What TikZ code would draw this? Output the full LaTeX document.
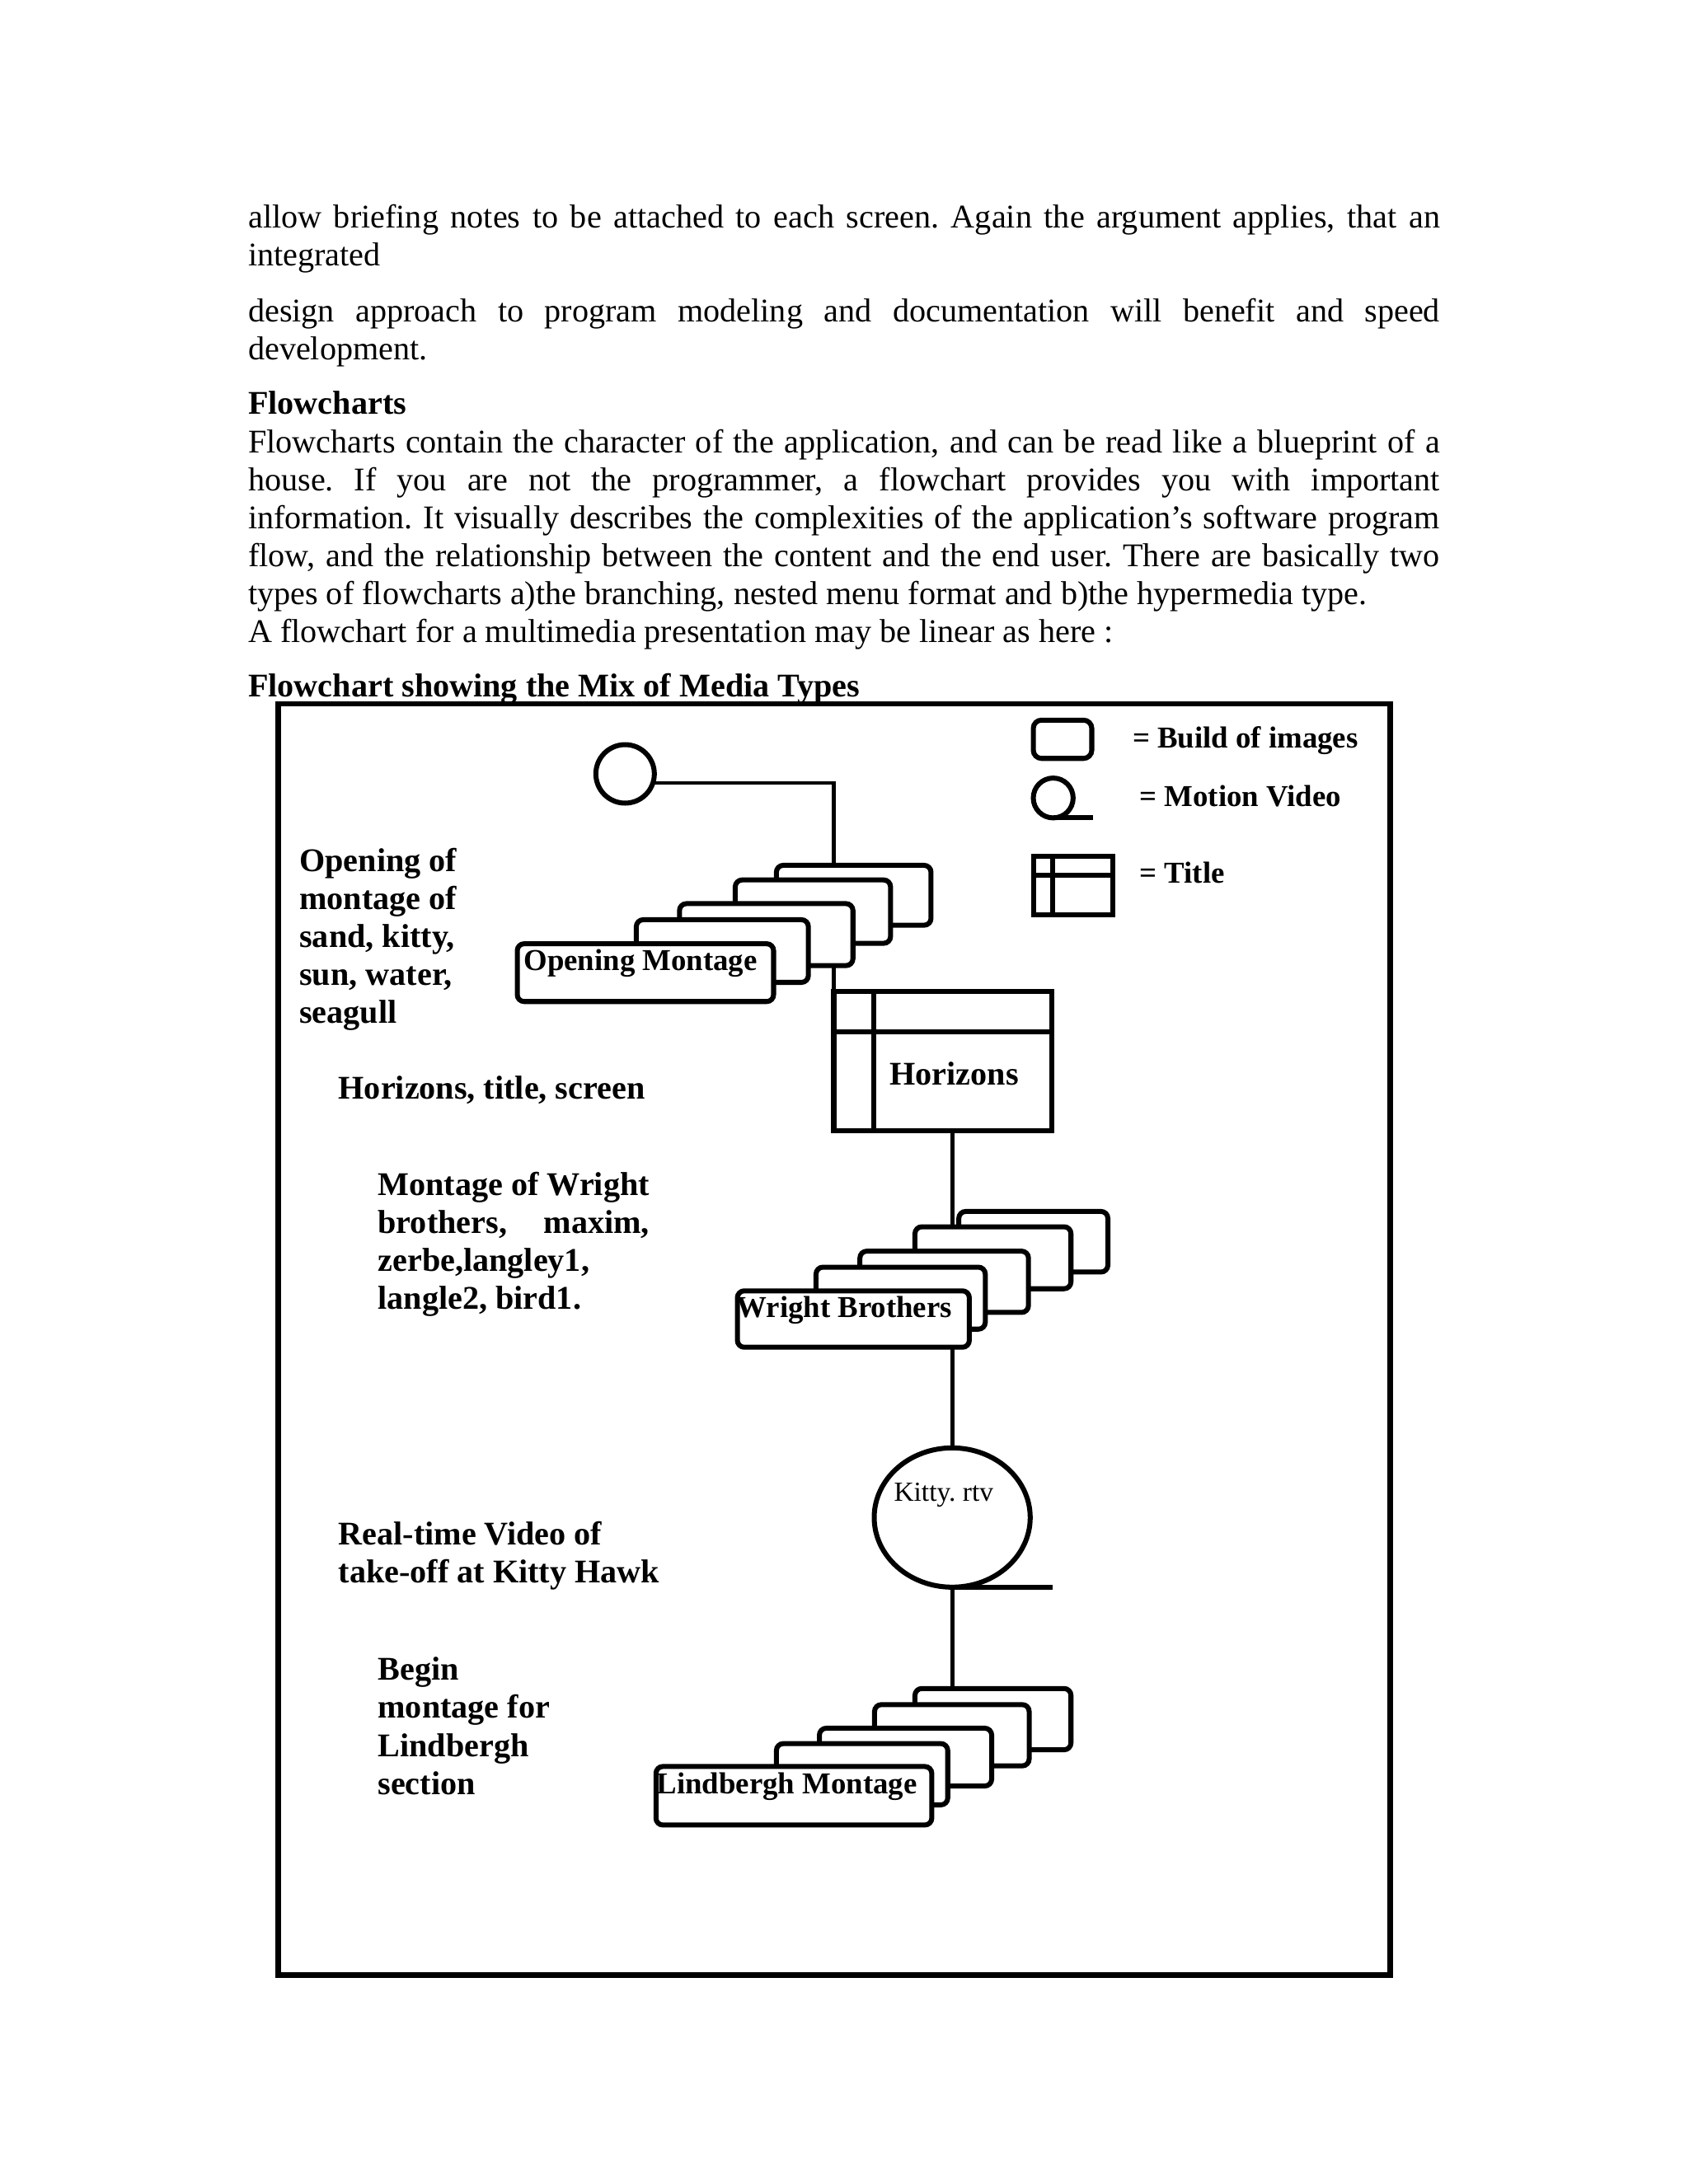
\documentclass[tikz,border=0pt]{standalone}
\usepackage{fontspec}
\setmainfont{Liberation Serif}
\usepackage{calc}
\usetikzlibrary{shapes.geometric}
\newcommand\linesof[1]{\vtop{\halign{##\hfil\cr#1\crcr}}}
\frenchspacing
\begin{document}
\frenchspacing
\begin{tikzpicture}[x=0.505pt,y=-0.505pt,
  bodytext/.style={anchor=base west, inner sep=0pt, outer sep=0pt, font=\fontsize{12}{13.8}\selectfont},
  labeltext/.style={bodytext, font=\fontsize{12}{13.8}\selectfont\bfseries},
  boxtext/.style={bodytext, font=\fontsize{11}{12.65}\selectfont\bfseries},
  smalltext/.style={bodytext, font=\fontsize{10}{12}\selectfont},
  imgbox/.style={rectangle, draw, fill=white, line width=1.8pt, rounded corners=2.5pt, inner sep=0pt, outer sep=0pt},
  titlebox/.style={rectangle, draw, fill=white, line width=1.8pt, inner sep=0pt, outer sep=0pt},
  videonode/.style={ellipse, draw, fill=white, line width=1.8pt, inner sep=0pt, outer sep=0pt},
  shapeline/.style={line width=1.8pt},
  conn/.style={line width=1.4pt},
  sz/.style 2 args={minimum width=#1*0.505pt, minimum height=#2*0.505pt}]
\fill[white] (0,0) rectangle (1212,1568);
\useasboundingbox (0,0) rectangle (1212,1568);

% ---------- body text ----------
\node[bodytext] (t1) at (178.2,163.5) {\makebox[432pt][s]{allow briefing notes to be attached to each screen. Again the argument applies, that an}};
\node[bodytext] (t2) at (178.2,191) {integrated};
\node[bodytext] (t3) at (178.2,231) {\makebox[432pt][s]{design approach to program modeling and documentation will benefit and speed}};
\node[bodytext] (t4) at (178.2,258) {development.};
\node[bodytext] (t5) at (178.2,297.5) {\textbf{Flowcharts}};
\node[bodytext] (t6) at (178.2,325) {\makebox[432pt][s]{Flowcharts contain the character of the application, and can be read like a blueprint of a}};
\node[bodytext] (t7) at (178.2,352.4) {\makebox[432pt][s]{house. If you are not the programmer, a flowchart provides you with important}};
\node[bodytext] (t8) at (178.2,379.6) {\makebox[432pt][s]{information. It visually describes the complexities of the application’s software program}};
\node[bodytext] (t9) at (178.2,406.8) {\makebox[432pt][s]{flow, and the relationship between the content and the end user. There are basically two}};
\node[bodytext] (t10) at (178.2,434) {types of flowcharts a)the branching, nested menu format and b)the hypermedia type.};
\node[bodytext] (t11) at (178.2,461) {A flowchart for a multimedia presentation may be linear as here :};
\node[labeltext] (head) at (178.2,500) {Flowchart showing the Mix of Media Types};

% ---------- frame ----------
\draw[line width=2pt] (199.6,505.3) rectangle (998,1418);

% ---------- legend ----------
\node[imgbox, rounded corners=3pt, sz={42}{27.5}] (legbox) at (762.7,530.75) {};
\node[boxtext] (legboxt) at (813,536.7) {= Build of images};
\node[videonode, circle, sz={28.6}{28.6}] (legvid) at (756,572.9) {};
\draw[shapeline] (legvid.south) -- ++(28.6,0);
\node[boxtext] (legvidt) at (818,578.9) {= Motion Video};
\node[titlebox, sz={57}{42.5}] (legtit) at (770.2,635.75) {};
\draw[shapeline] (legtit.north west) ++(14.1,0) -- ++(0,42.5);
\draw[shapeline] (legtit.north west) ++(0,14.1) -- ++(57,0);
\node[boxtext] (legtitt) at (818,634) {= Title};

% ---------- start video ----------
\node[videonode, circle, sz={42}{42}] (start) at (448.7,555.6) {};

% ---------- opening montage stack ----------
\node[imgbox, sz={111}{43}] (om5) at (612.8,642.75) {};
\node[imgbox, sz={111.5}{45.5}] (om4) at (583.5,654.5) {};
\node[imgbox, sz={124.5}{44.5}] (om3) at (550,671) {};
\node[imgbox, sz={123.5}{45}] (om2) at (518.5,682.8) {};
\node[imgbox, sz={184}{41.5}] (om1) at (463.3,698.3) {};
\node[boxtext] (om1t) at (376,697) {Opening Montage};

% ---------- Horizons title ----------
\node[titlebox, sz={156.5}{99.6}] (hz) at (676.75,761.8) {};
\draw[shapeline] (hz.north west) ++(28.5,0) -- ++(0,99.6);
\draw[shapeline] (hz.north west) ++(0,28.7) -- ++(156.5,0);
\node[labeltext] (hzt) at (638.8,779) {Horizons};

% ---------- Wright stack ----------
\node[imgbox, sz={107}{43.5}] (wb5) at (741.75,891.5) {};
\node[imgbox, sz={112}{44.5}] (wb4) at (712.75,903) {};
\node[imgbox, sz={121}{44}] (wb3) at (677.75,920.25) {};
\node[imgbox, sz={121.5}{44.5}] (wb2) at (646.5,932) {};
\node[imgbox, sz={166.5}{40.5}] (wb1) at (612.55,947) {};
\node[boxtext] (wb1t) at (528.7,945.7) {Wright Brothers};

% ---------- Kitty video ----------
\node[videonode, sz={112}{100}] (kitty) at (683.5,1089.5) {};
\draw[shapeline] (kitty.south) -- ++(72,0);
\node[smalltext] (kittyt) at (641.7,1077.5) {Kitty. rtv};

% ---------- Lindbergh stack ----------
\node[imgbox, sz={112}{44}] (lb5) at (712.75,1234.25) {};
\node[imgbox, sz={111}{44}] (lb4) at (683.25,1245.8) {};
\node[imgbox, sz={123.7}{41.5}] (lb3) at (650,1261.5) {};
\node[imgbox, sz={123}{44}] (lb2) at (618.8,1273.8) {};
\node[imgbox, sz={198}{42}] (lb1) at (569.85,1289.25) {};
\node[boxtext] (lb1t) at (471.4,1288) {Lindbergh Montage};

% ---------- connectors ----------
\draw[conn] (start.-18) -| (om5.north -| hz.west);
\draw[conn] (om3.south -| hz.west) -- (hz.north west);
\draw[conn] (hz.south -| kitty.north) -- (wb4.north -| kitty.north);
\draw[conn] (wb1.south -| kitty.north) -- (kitty.north);
\draw[conn] (kitty.south) -- (lb5.north -| kitty.south);

% ---------- left annotations ----------
\node[labeltext] (n1) at (215,625.5) {\linesof{Opening of\cr montage of\cr sand, kitty,\cr sun, water,\cr seagull}};
\node[labeltext] (n2) at (243,789) {Horizons, title, screen};
\node[labeltext] (n3) at (271.3,858) {\linesof{Montage of Wright\cr \makebox[\widthof{Montage of Wright}][s]{brothers, maxim,}\cr zerbe,langley1,\cr langle2, bird1.}};
\node[labeltext] (n4) at (243,1109) {\linesof{Real-time Video of\cr take-off at Kitty Hawk}};
\node[labeltext] (n5) at (271.3,1206.3) {\linesof{Begin\cr montage for\cr Lindbergh\cr section}};
\end{tikzpicture}
\end{document}
